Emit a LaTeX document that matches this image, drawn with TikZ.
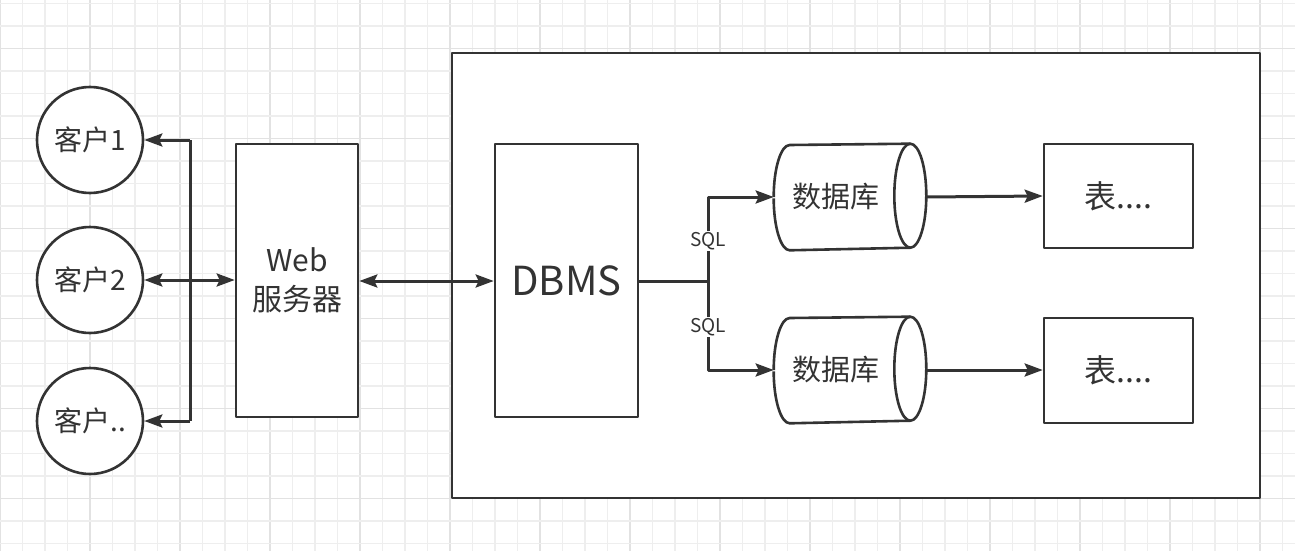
\documentclass[tikz,border=0pt]{standalone}
\usepackage{fontspec}
\setmainfont{Noto Sans CJK SC}
\usetikzlibrary{arrows.meta}
\definecolor{ink}{HTML}{333333}
\definecolor{gminor}{HTML}{EEEEEE}
\definecolor{gmajor}{HTML}{E2E2E2}
\begin{document}
\begin{tikzpicture}[x=1pt,y=1pt,
  line width=2.6pt, draw=ink, text=ink, line join=round,
  arr/.style={draw=ink,line width=3pt,-{Stealth[length=18pt,width=13pt,inset=3pt]}},
  darr/.style={draw=ink,line width=3pt,{Stealth[length=18pt,width=13pt,inset=3pt]}-{Stealth[length=18pt,width=13pt,inset=3pt]}},
  wire/.style={draw=ink,line width=3pt},
  client/.style={circle,draw=ink,fill=white,line width=2.6pt,minimum size=106pt,inner sep=0pt,font=\fontsize{28}{32}\selectfont},
  box/.style={rectangle,draw=ink,fill=white,line width=2.6pt,inner sep=0pt,align=center},
  tag/.style={fill=white,inner sep=1pt,font=\fontsize{19}{22}\selectfont}]
\useasboundingbox (0,0) rectangle (1295,-551);
\fill[white] (0,0) rectangle (1295,-551);
% grid
\foreach \i in {0,...,57} {
  \pgfmathsetmacro{\gx}{22.5*\i}
  \pgfmathtruncatemacro{\m}{mod(\i,4)}
  \ifnum\m=0 \draw[gmajor,line width=1.2pt] (\gx,0) -- (\gx,-551);
  \else \draw[gminor,line width=1.2pt] (\gx,0) -- (\gx,-551); \fi
}
\foreach \i in {0,...,24} {
  \pgfmathsetmacro{\gy}{-3.5-22.5*\i}
  \pgfmathtruncatemacro{\m}{mod(\i+2,4)}
  \ifnum\m=0 \draw[gmajor,line width=1.2pt] (0,\gy) -- (1295,\gy);
  \else \draw[gminor,line width=1.2pt] (0,\gy) -- (1295,\gy); \fi
}
% big container
\node[box,minimum width=808pt,minimum height=445pt] (sys) at (856,-275.5) {};
% clients
\node[client] (c1) at (90,-140) {客户1};
\node[client] (c2) at (90,-280) {客户2};
\node[client] (c3) at (90,-421) {客户..};
% web server
\node[box,minimum width=122pt,minimum height=273pt,font=\fontsize{30}{39}\selectfont] (web) at (297,-280.5) {Web\\服务器};
% DBMS
\node[box,minimum width=143pt,minimum height=273pt,font=\fontsize{40}{44}\selectfont] (dbms) at (566.5,-280.5) {DBMS};
% cylinders (anchor nodes)
\node[minimum width=150pt,minimum height=104pt,inner sep=0pt] (db1) at (850,-197) {};
\node[minimum width=150pt,minimum height=104pt,inner sep=0pt] (db2) at (850,-370) {};
\foreach \n in {db1,db2} {
  \draw[ink,fill=white,line width=2.6pt]
    (\n.west)
    arc[start angle=180,end angle=90,x radius=16,y radius=52]
    -- ([xshift=-16pt]\n.north east)
    arc[start angle=90,end angle=-90,x radius=16,y radius=52]
    -- ([xshift=16pt]\n.south west)
    arc[start angle=270,end angle=180,x radius=16,y radius=52];
  \draw[ink,line width=2.6pt] ([xshift=-16pt]\n.north east)
    arc[start angle=90,end angle=270,x radius=16,y radius=52];
}
\node[font=\fontsize{29}{32}\selectfont] at ([xshift=-14pt]db1.center) {数据库};
\node[font=\fontsize{29}{32}\selectfont] at ([xshift=-14pt]db2.center) {数据库};
% tables
\node[box,minimum width=149pt,minimum height=104pt,font=\fontsize{32}{36}\selectfont] (t1) at (1118.5,-196) {表....};
\node[box,minimum width=149pt,minimum height=105pt,font=\fontsize{32}{36}\selectfont] (t2) at (1118.5,-370.5) {表....};
% client bus
\coordinate (b1) at (190,-140);
\coordinate (b2) at (190,-280);
\coordinate (b3) at (190,-421);
\draw[wire] (b1) -- (b3);
\draw[arr] (b1) -- (c1.east);
\draw[arr] (b3) -- (c3.east);
\draw[darr] (c2.east) -- (web.west |- c2.east);
% web <-> dbms
\draw[darr] (web.east |- 0,-281) -- (dbms.west |- 0,-281);
% dbms -> databases
\coordinate (j) at (708,-281);
\draw[wire] (dbms.east |- j) -- (j);
\draw[arr] (j) |- node[tag,pos=0.24] {SQL} (db1.west);
\draw[arr] (j) |- node[tag,pos=0.26] {SQL} (db2.west);
% databases -> tables
\draw[arr] (db1.east) -- (t1.west);
\draw[arr] (db2.east) -- (t2.west |- db2.east);
\end{tikzpicture}
\end{document}
